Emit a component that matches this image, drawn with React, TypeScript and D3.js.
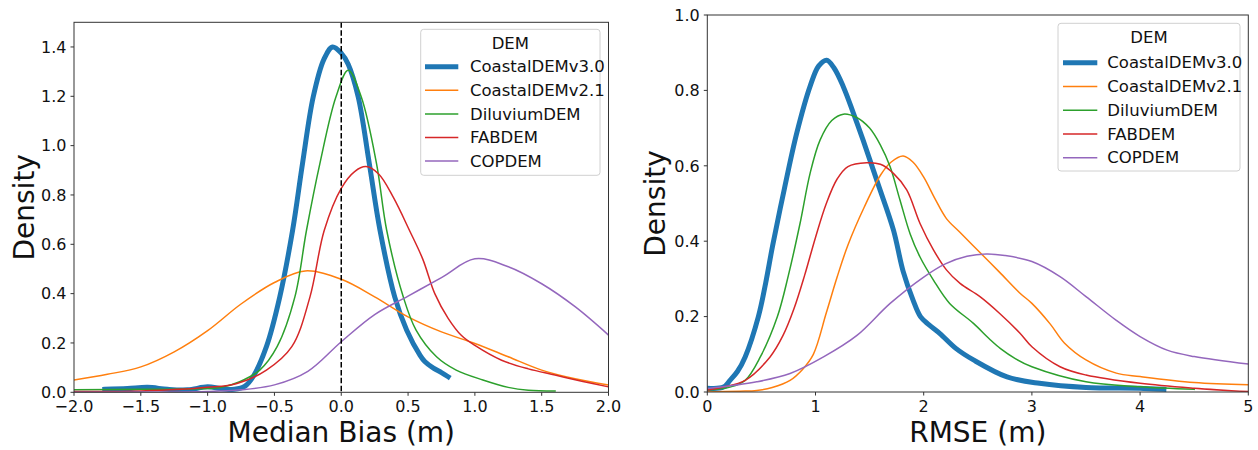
import React from 'react';
import * as d3 from 'd3';

// ---------- data ----------
const demNames = ['CoastalDEMv3.0', 'CoastalDEMv2.1', 'DiluviumDEM', 'FABDEM', 'COPDEM'];

const biasTicksX = [-2, -1.5, -1, -0.5, 0, 0.5, 1, 1.5, 2];
const biasTicksY = [0, 0.2, 0.4, 0.6, 0.8, 1.0, 1.2, 1.4];
const rmseTicksX = [0, 1, 2, 3, 4, 5];
const rmseTicksY = [0, 0.2, 0.4, 0.6, 0.8, 1.0];

// Median bias KDEs
const biasV3X = [-1.77, -1.6, -1.45, -1.3, -1.15, -1.0, -0.9, -0.8, -0.72, -0.66, -0.56, -0.46, -0.364, -0.29, -0.21, -0.13, -0.065, 0.0, 0.052, 0.127, 0.21, 0.29, 0.4, 0.49, 0.59, 0.625, 0.69, 0.75, 0.8];
const biasV3Y = [0.012, 0.015, 0.02, 0.012, 0.01, 0.022, 0.015, 0.012, 0.025, 0.063, 0.185, 0.387, 0.657, 0.927, 1.197, 1.35, 1.40, 1.375, 1.33, 1.197, 0.927, 0.657, 0.387, 0.252, 0.15, 0.125, 0.098, 0.08, 0.063];
const biasV21X = [-2.0, -1.75, -1.5, -1.25, -1.0, -0.75, -0.5, -0.27, 0.0, 0.25, 0.5, 0.75, 1.0, 1.25, 1.5, 1.75, 2.0];
const biasV21Y = [0.05, 0.073, 0.103, 0.164, 0.25, 0.358, 0.445, 0.492, 0.458, 0.387, 0.306, 0.245, 0.198, 0.144, 0.09, 0.055, 0.03];
const biasDilX = [-2.0, -1.5, -1.0, -0.9, -0.76, -0.61, -0.48, -0.347, -0.26, -0.16, -0.04, 0.052, 0.15, 0.264, 0.34, 0.464, 0.56, 0.713, 0.86, 1.06, 1.25, 1.4, 1.6];
const biasDilY = [0.01, 0.012, 0.015, 0.02, 0.043, 0.09, 0.185, 0.387, 0.657, 0.927, 1.197, 1.306, 1.197, 0.927, 0.657, 0.387, 0.252, 0.144, 0.09, 0.05, 0.02, 0.008, 0.005];
const biasFabX = [-2.0, -1.5, -1.0, -0.78, -0.56, -0.37, -0.234, -0.127, 0.0, 0.1, 0.185, 0.28, 0.39, 0.51, 0.61, 0.7, 0.8, 0.9, 1.0, 1.2, 1.4, 1.6, 1.8, 2.0];
const biasFabY = [0.003, 0.005, 0.02, 0.036, 0.09, 0.185, 0.387, 0.657, 0.827, 0.895, 0.915, 0.885, 0.79, 0.657, 0.54, 0.4, 0.3, 0.23, 0.19, 0.13, 0.095, 0.07, 0.045, 0.022];
const biasCopX = [-2.0, -1.5, -1.0, -0.75, -0.5, -0.25, 0.0, 0.25, 0.5, 0.75, 1.0, 1.25, 1.5, 1.75, 2.0];
const biasCopY = [0.0, 0.001, 0.003, 0.01, 0.03, 0.085, 0.205, 0.315, 0.39, 0.465, 0.541, 0.509, 0.44, 0.347, 0.232];

// RMSE KDEs
const rmseV3X = [0, 0.15, 0.21, 0.28, 0.35, 0.472, 0.54, 0.605, 0.713, 0.826, 0.949, 1.03, 1.103, 1.17, 1.257, 1.35, 1.44, 1.58, 1.72, 1.81, 1.9, 1.97, 2.05, 2.15, 2.3, 2.46, 2.77, 3.07, 3.5, 4.0, 4.22];
const rmseV3Y = [0.01, 0.013, 0.031, 0.055, 0.093, 0.2, 0.29, 0.39, 0.54, 0.686, 0.81, 0.865, 0.88, 0.86, 0.81, 0.74, 0.668, 0.55, 0.43, 0.32, 0.245, 0.2, 0.178, 0.155, 0.115, 0.085, 0.04, 0.023, 0.012, 0.01, 0.007];
const rmseV21X = [0, 0.3, 0.457, 0.6, 0.765, 0.88, 0.98, 1.1, 1.2, 1.3, 1.45, 1.6, 1.7, 1.81, 1.9, 2.0, 2.1, 2.21, 2.33, 2.52, 2.7, 2.89, 3.0, 3.17, 3.3, 3.5, 3.78, 4.0, 4.5, 5.0];
const rmseV21Y = [0.0, 0.002, 0.004, 0.012, 0.031, 0.06, 0.1, 0.21, 0.305, 0.39, 0.49, 0.575, 0.61, 0.626, 0.61, 0.57, 0.515, 0.46, 0.425, 0.37, 0.318, 0.262, 0.235, 0.18, 0.13, 0.085, 0.05, 0.041, 0.025, 0.019];
const rmseDilX = [0, 0.21, 0.35, 0.49, 0.648, 0.75, 0.857, 0.95, 1.042, 1.15, 1.257, 1.38, 1.5, 1.6, 1.689, 1.78, 1.874, 1.966, 2.09, 2.24, 2.46, 2.61, 2.71, 2.85, 3.0, 3.5, 4.0, 4.5];
const rmseDilY = [0.005, 0.013, 0.031, 0.093, 0.2, 0.31, 0.447, 0.58, 0.668, 0.72, 0.737, 0.728, 0.7, 0.655, 0.598, 0.51, 0.42, 0.358, 0.297, 0.235, 0.182, 0.14, 0.115, 0.088, 0.067, 0.027, 0.014, 0.007];
const rmseFabX = [0, 0.15, 0.35, 0.58, 0.7, 0.8, 0.9, 1.0, 1.1, 1.2, 1.3, 1.473, 1.6, 1.72, 1.843, 1.966, 2.09, 2.21, 2.336, 2.52, 2.7, 2.89, 3.0, 3.26, 3.5, 4.0, 4.5, 5.0];
const rmseFabY = [0.005, 0.013, 0.031, 0.093, 0.15, 0.22, 0.31, 0.41, 0.5, 0.565, 0.598, 0.608, 0.604, 0.58, 0.536, 0.447, 0.377, 0.324, 0.288, 0.253, 0.209, 0.156, 0.12, 0.067, 0.045, 0.023, 0.01, 0.001];
const rmseCopX = [0, 0.457, 0.765, 1.074, 1.383, 1.69, 2.0, 2.2, 2.4, 2.58, 2.75, 3.0, 3.26, 3.5, 3.78, 4.0, 4.25, 4.5, 5.0];
const rmseCopY = [0.009, 0.027, 0.049, 0.093, 0.15, 0.235, 0.305, 0.34, 0.36, 0.366, 0.362, 0.346, 0.306, 0.253, 0.19, 0.147, 0.111, 0.094, 0.074];

// ---------- styles ----------
const COLORS = ['#1f77b4', '#ff7f0e', '#2ca02c', '#d62728', '#9467bd'];
const WIDTHS = [5, 1.5, 1.5, 1.5, 1.5];
const FONT = 'DejaVu Sans, sans-serif';

const zip = (xs: number[], ys: number[]) => xs.map((x, i) => [x, ys[i]] as [number, number]);

const biasSeries = [zip(biasV3X, biasV3Y), zip(biasV21X, biasV21Y), zip(biasDilX, biasDilY), zip(biasFabX, biasFabY), zip(biasCopX, biasCopY)];
const rmseSeries = [zip(rmseV3X, rmseV3Y), zip(rmseV21X, rmseV21Y), zip(rmseDilX, rmseDilY), zip(rmseFabX, rmseFabY), zip(rmseCopX, rmseCopY)];

const minus = (s: string) => s.replace('-', '\u2212');

type PanelProps = {
  id: string;
  series: [number, number][][];
  xDomain: [number, number];
  yDomain: [number, number];
  xTicks: number[];
  yTicks: number[];
  fmtX: (v: number) => string;
  fmtY: (v: number) => string;
  left: number; right: number; top: number; bottom: number;
  xLabel: string;
  yLabelX: number;
  legend: { x: number; y: number; w: number; title: number; first: number; step: number; h: number; hx0: number; hx1: number; tx: number };
  zeroLine?: boolean;
};

function Panel(p: PanelProps) {
  const x = d3.scaleLinear().domain(p.xDomain).range([p.left, p.right]);
  const y = d3.scaleLinear().domain(p.yDomain).range([p.bottom, p.top]);
  const line = d3.line<[number, number]>().x(d => x(d[0])).y(d => y(d[1])).curve(d3.curveCatmullRom.alpha(0.5));
  const L = p.legend;
  return (
    <g>
      <defs>
        <clipPath id={p.id}>
          <rect x={p.left} y={p.top} width={p.right - p.left} height={p.bottom - p.top} />
        </clipPath>
      </defs>
      <g clipPath={`url(#${p.id})`}>
        {p.series.map((s, i) => (
          <path key={i} d={line(s) || ''} fill="none" stroke={COLORS[i]} strokeWidth={WIDTHS[i]} strokeLinejoin="round" strokeLinecap="square" />
        ))}
        {p.zeroLine && (
          <line x1={x(0)} x2={x(0)} y1={p.top} y2={p.bottom} stroke="#000" strokeWidth={1.5} strokeDasharray="5.5,2.4" />
        )}
      </g>
      <rect x={p.left} y={p.top} width={p.right - p.left} height={p.bottom - p.top} fill="none" stroke="#333" strokeWidth={1} />
      {p.xTicks.map(t => (
        <g key={'x' + t}>
          <line x1={x(t)} x2={x(t)} y1={p.bottom} y2={p.bottom + 3.5} stroke="#333" strokeWidth={1} />
          <text x={x(t)} y={p.bottom + 20} textAnchor="middle" fontSize={16} fontFamily={FONT} fill="#111">{p.fmtX(t)}</text>
        </g>
      ))}
      {p.yTicks.map(t => (
        <g key={'y' + t}>
          <line x1={p.left - 3.5} x2={p.left} y1={y(t)} y2={y(t)} stroke="#333" strokeWidth={1} />
          <text x={p.left - 7.5} y={y(t)} dy="0.36em" textAnchor="end" fontSize={16} fontFamily={FONT} fill="#111">{p.fmtY(t)}</text>
        </g>
      ))}
      <text x={(p.left + p.right) / 2} y={441.5} textAnchor="middle" fontSize={28} fontFamily={FONT} fill="#111">{p.xLabel}</text>
      <text transform={`translate(${p.yLabelX},${(p.top + p.bottom) / 2}) rotate(-90)`} textAnchor="middle" fontSize={28} fontFamily={FONT} fill="#111">Density</text>
      <rect x={L.x} y={L.y} width={L.w} height={L.h} rx={3} fill="#fff" fillOpacity={0.8} stroke="#d0d0d0" strokeWidth={1} />
      <text x={L.x + L.w / 2} y={L.y + L.title} textAnchor="middle" fontSize={16.5} fontFamily={FONT} fill="#111">DEM</text>
      {demNames.map((n, i) => {
        const by = L.y + L.first + i * L.step;
        return (
          <g key={n}>
            <line x1={L.hx0} x2={L.hx1} y1={by - 5.6} y2={by - 5.6} stroke={COLORS[i]} strokeWidth={WIDTHS[i]} />
            <text x={L.tx} y={by} fontSize={16.5} fontFamily={FONT} fill="#111">{n}</text>
          </g>
        );
      })}
    </g>
  );
}

export default function App() {
  return (
    <svg width={1258} height={450} viewBox="0 0 1258 450" style={{ position: 'absolute', left: 0, top: 0, background: '#fff' }}>
      <rect x={0} y={0} width={1258} height={450} fill="#fff" />
      <Panel
        id="clipBias"
        series={biasSeries}
        xDomain={[-2, 2]}
        yDomain={[0, 1.5]}
        xTicks={biasTicksX}
        yTicks={biasTicksY}
        fmtX={v => minus(d3.format('.1f')(v))}
        fmtY={v => d3.format('.1f')(v)}
        left={74} right={608.5} top={22.3} bottom={392.3}
        xLabel="Median Bias (m)"
        yLabelX={33.5}
        zeroLine
        legend={{ x: 420.7, y: 29.3, w: 179.3, h: 146, title: 20, first: 43, step: 23.6, hx0: 425, hx1: 458.3, tx: 470 }}
      />
      <Panel
        id="clipRmse"
        series={rmseSeries}
        xDomain={[0, 5]}
        yDomain={[0, 1]}
        xTicks={rmseTicksX}
        yTicks={rmseTicksY}
        fmtX={v => d3.format('d')(v)}
        fmtY={v => d3.format('.1f')(v)}
        left={707.3} right={1248.3} top={15} bottom={392}
        xLabel="RMSE (m)"
        yLabelX={665}
        legend={{ x: 1058, y: 23.3, w: 182, h: 147.7, title: 19.5, first: 45, step: 23.75, hx0: 1063, hx1: 1097.3, tx: 1107.3 }}
      />
    </svg>
  );
}
